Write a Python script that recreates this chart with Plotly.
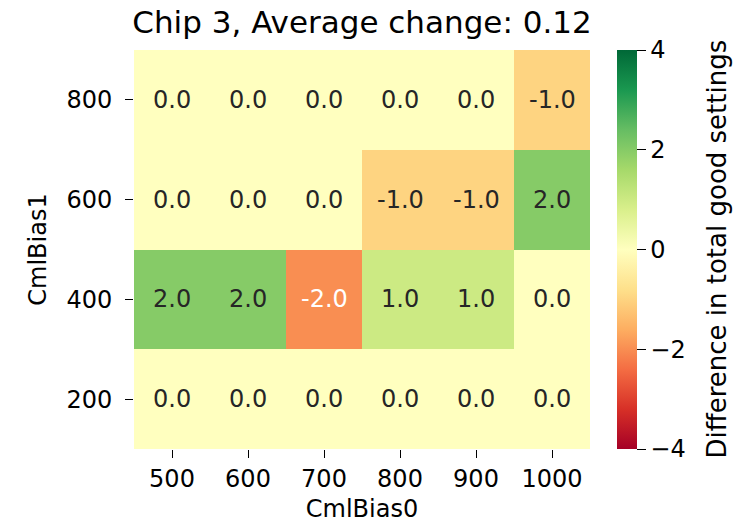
import plotly.graph_objects as go

cml_bias0 = ["500", "600", "700", "800", "900", "1000"]
cml_bias1 = ["200", "400", "600", "800"]
row_200 = [0, 0, 0, 0, 0, 0]
row_400 = [2, 2, -2, 1, 1, 0]
row_600 = [0, 0, 0, -1, -1, 2]
row_800 = [0, 0, 0, 0, 0, -1]
z = [row_200, row_400, row_600, row_800]

rdylgn = ['rgb(165,0,38)', 'rgb(215,48,39)', 'rgb(244,109,67)', 'rgb(253,174,97)',
          'rgb(254,224,139)', 'rgb(255,255,191)', 'rgb(217,239,139)', 'rgb(166,217,106)',
          'rgb(102,189,99)', 'rgb(26,152,80)', 'rgb(0,104,55)']
zmin, zmax = -4, 4
avg = sum(sum(r) for r in z) / (len(z) * len(z[0]))

def parse(c):
    return [int(v) for v in c[4:-1].split(',')]

def color_at(v):
    t = (v - zmin) / (zmax - zmin) * (len(rdylgn) - 1)
    i = min(int(t), len(rdylgn) - 2)
    f = t - i
    a, b = parse(rdylgn[i]), parse(rdylgn[i + 1])
    return [a[k] + (b[k] - a[k]) * f for k in range(3)]

def lum(rgb):
    out = []
    for c in rgb:
        c = c / 255
        out.append(c / 12.92 if c <= 0.03928 else ((c + 0.055) / 1.055) ** 2.4)
    return 0.2126 * out[0] + 0.7152 * out[1] + 0.0722 * out[2]

font = "DejaVu Sans"
fs = 24
W, H = 738, 526
L, R, T, B = 134, 148, 50, 77
pw = W - L - R

fig = go.Figure(go.Heatmap(
    x=cml_bias0, y=cml_bias1, z=z, zmin=zmin, zmax=zmax,
    colorscale=[[i / 10, c] for i, c in enumerate(rdylgn)],
    colorbar=dict(
        x=(617 - L) / pw, xanchor="left", y=0.5, yanchor="middle", len=1, lenmode="fraction",
        thickness=20, outlinewidth=0, ticks="outside", ticklen=9, tickwidth=1.3,
        tickcolor="black", tickvals=[-4, -2, 0, 2, 4], xpad=0, ypad=0,
        tickfont=dict(family=font, size=fs, color="black"),
    ),
))

annotations = []
for yi, yv in enumerate(cml_bias1):
    for xi, xv in enumerate(cml_bias0):
        v = z[yi][xi]
        col = "#262626" if lum(color_at(v)) > 0.408 else "white"
        annotations.append(dict(x=xi, y=yi, xref="x", yref="y", text=f"{v:.1f}",
                                showarrow=False,
                                font=dict(family=font, size=fs, color=col)))
annotations.append(dict(x=(716 - L) / pw, y=0.5, xref="paper", yref="paper",
                        text="Difference in total good settings", textangle=-90,
                        showarrow=False, xanchor="center", yanchor="middle",
                        font=dict(family=font, size=26, color="black")))

fig.update_layout(
    width=W, height=H,
    margin=dict(l=L, r=R, t=T, b=B, autoexpand=False),
    paper_bgcolor="white", plot_bgcolor="white",
    title=dict(text=f"Chip 3, Average change: {avg:.2f}", x=(L + L + pw) / 2 / W,
               xanchor="center", y=1 - 22 / H, yanchor="middle",
               font=dict(family=font, size=31, color="black")),
    annotations=annotations,
    xaxis=dict(type="category", showgrid=False, zeroline=False, showline=False,
               automargin=False,
               ticks="outside", ticklen=8, tickwidth=1.3, tickcolor="black",
               tickfont=dict(family=font, size=fs, color="black"),
               title=dict(text="CmlBias0", font=dict(family=font, size=fs, color="black"),
                          standoff=8)),
    yaxis=dict(type="category", showgrid=False, zeroline=False, showline=False,
               automargin=False, ticklabelstandoff=8,
               ticks="outside", ticklen=8, tickwidth=1.3, tickcolor="black",
               tickfont=dict(family=font, size=fs, color="black"),
               title=dict(text="CmlBias1", font=dict(family=font, size=fs, color="black"),
                          standoff=12)),
)

fig.write_html("out.html", config={"displayModeBar": False},
               post_script="document.body.style.margin='0';")
